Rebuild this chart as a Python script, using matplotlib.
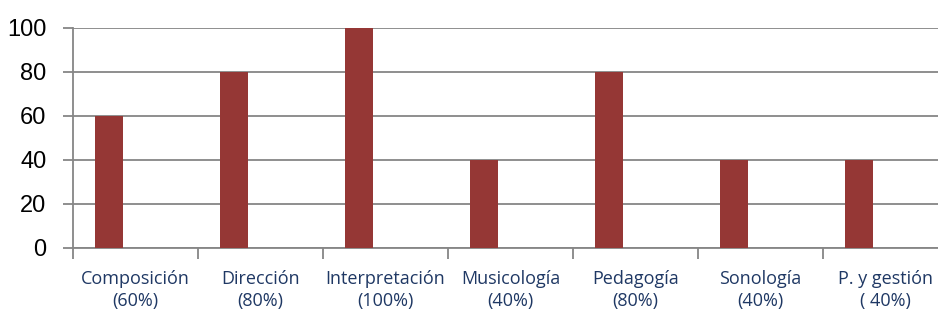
import matplotlib
matplotlib.use("Agg")
import matplotlib.pyplot as plt
import numpy as np

categories = ["Composición\n(60%)", "Dirección\n(80%)", "Interpretación\n(100%)",
              "Musicología\n(40%)", "Pedagogía\n(80%)", "Sonología\n(40%)", "P. y gestión\n( 40%)"]
values = [60, 80, 100, 40, 80, 40, 40]
yticks = [0, 20, 40, 60, 80, 100]

W, H = 938, 313
fig = plt.figure(figsize=(W / 100, H / 100), dpi=100)
left, right, top, bottom = 73, 948, 28, 248
ax = fig.add_axes([left / W, 1 - bottom / H, (right - left) / W, (bottom - top) / H])

grid_col = "#868686"
x = np.arange(len(categories))
ax.bar(x - 0.214, values, width=0.224, color="#953735", zorder=3)

ax.set_xlim(-0.5, len(categories) - 0.5)
ax.set_ylim(0, 100)
ax.set_yticks(yticks)
ax.set_yticklabels([str(v) for v in yticks], fontsize=17, family="Liberation Sans", color="black")
ax.yaxis.grid(True, color=grid_col, linewidth=1.3, zorder=0)
ax.tick_params(axis="y", length=7, width=1.3, color=grid_col, pad=12)

ax.set_xticks(x)
ax.set_xticklabels(categories, fontsize=13, family="Open Sans", color="#1F3864", linespacing=1.3)
ax.set_xticks(np.arange(len(categories) + 1) - 0.5, minor=True)
ax.tick_params(axis="x", which="major", length=0, pad=16)
ax.tick_params(axis="x", which="minor", length=8, width=1.3, color=grid_col)

for s in ["top", "right"]:
    ax.spines[s].set_visible(False)
for s in ["left", "bottom"]:
    ax.spines[s].set_color(grid_col)
    ax.spines[s].set_linewidth(1.3)

fig.savefig("out.png", dpi=100)
